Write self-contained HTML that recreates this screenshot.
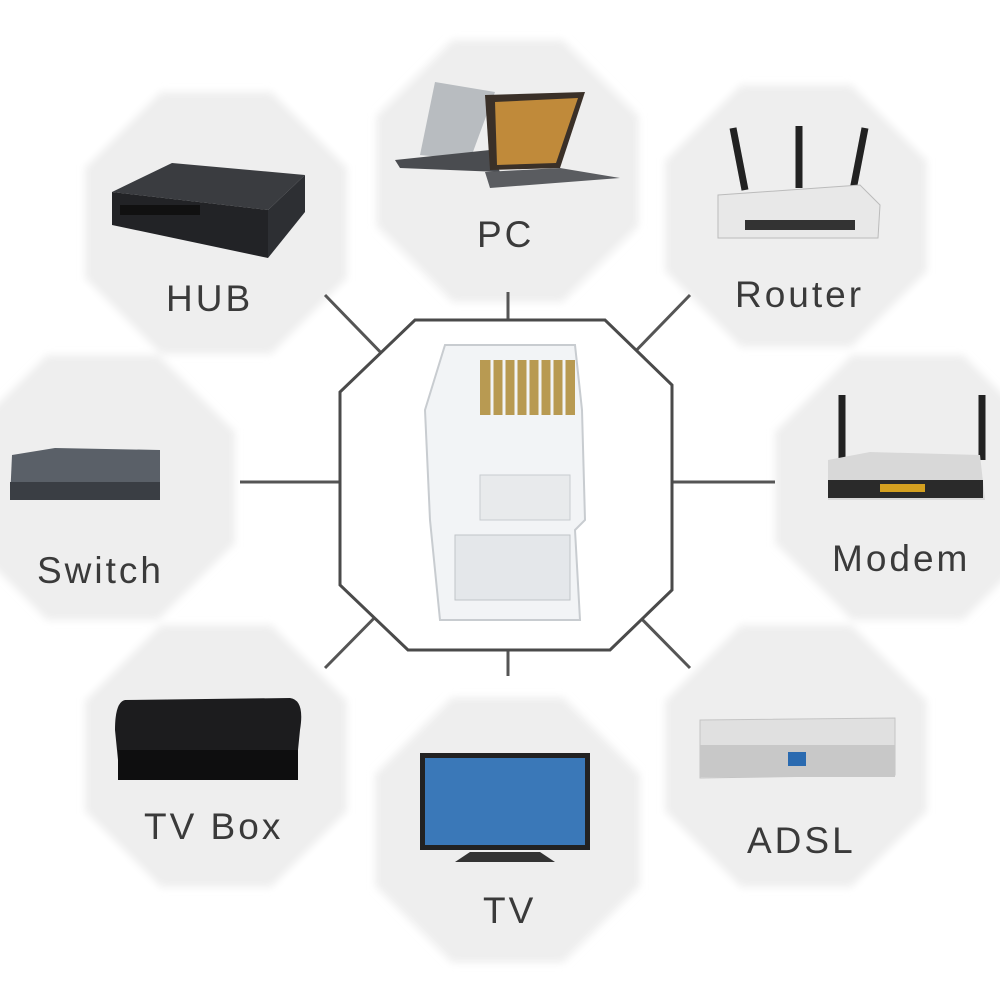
<!DOCTYPE html>
<html><head><meta charset="utf-8"><style>
html,body{margin:0;padding:0;background:#fff;}
svg{display:block;}
text{font-family:"Liberation Sans",sans-serif;font-size:37px;fill:#3a3a3a;letter-spacing:3px;}
</style></head><body>
<svg width="1000" height="1000" viewBox="0 0 1000 1000" xmlns="http://www.w3.org/2000/svg">
<defs>
<filter id="b" x="-10%" y="-10%" width="120%" height="120%"><feGaussianBlur stdDeviation="4"/></filter>
<symbol id="oct" viewBox="0 0 100 100"><polygon points="29,0 71,0 100,29 100,71 71,100 29,100 0,71 0,29" fill="#eeeeee"/></symbol>
</defs>
<g filter="url(#b)">
<use href="#oct" x="85" y="92" width="262" height="262"/>
<use href="#oct" x="375" y="40" width="265" height="262"/>
<use href="#oct" x="665" y="85" width="262" height="262"/>
<use href="#oct" x="-30" y="355" width="265" height="265"/>
<use href="#oct" x="775" y="355" width="265" height="265"/>
<use href="#oct" x="85" y="625" width="262" height="262"/>
<use href="#oct" x="375" y="685" width="265" height="290"/>
<use href="#oct" x="665" y="625" width="262" height="262"/>
</g>
<g stroke="#555" stroke-width="3" fill="none">
<line x1="325" y1="295" x2="390" y2="362"/>
<line x1="508" y1="292" x2="508" y2="320"/>
<line x1="690" y1="295" x2="625" y2="362"/>
<line x1="240" y1="482" x2="340" y2="482"/>
<line x1="672" y1="482" x2="775" y2="482"/>
<line x1="325" y1="668" x2="390" y2="602"/>
<line x1="508" y1="650" x2="508" y2="676"/>
<line x1="690" y1="668" x2="625" y2="602"/>
<polygon points="415,320 605,320 672,385 672,590 610,650 408,650 340,585 340,392" fill="#fff" stroke="#4a4a4a" stroke-width="3"/>
</g>
<g>
<path d="M445 345 L575 345 L582 410 L585 520 L575 530 L580 620 L440 620 L430 520 L425 410 Z" fill="#f2f4f6" stroke="#c8ccd0" stroke-width="2"/>
<rect x="480" y="360" width="95" height="55" fill="#b89a52"/>
<g stroke="#f2f4f6" stroke-width="3"><line x1="492" y1="360" x2="492" y2="415"/><line x1="504" y1="360" x2="504" y2="415"/><line x1="516" y1="360" x2="516" y2="415"/><line x1="528" y1="360" x2="528" y2="415"/><line x1="540" y1="360" x2="540" y2="415"/><line x1="552" y1="360" x2="552" y2="415"/><line x1="564" y1="360" x2="564" y2="415"/></g>
<rect x="455" y="535" width="115" height="65" fill="#e4e7ea" stroke="#c0c4c8"/>
<rect x="480" y="475" width="90" height="45" fill="#e8eaec" stroke="#c8ccd0"/>
</g>
<!-- HUB -->
<polygon points="112,192 172,163 305,175 268,210" fill="#3a3c40"/>
<polygon points="112,192 268,210 268,258 112,225" fill="#222326"/>
<polygon points="268,210 305,175 305,212 268,258" fill="#2d2f33"/>
<rect x="120" y="205" width="80" height="10" fill="#111"/>
<!-- PC -->
<polygon points="435,82 495,92 470,160 420,155" fill="#b8bcc0"/>
<polygon points="395,160 490,150 500,172 400,168" fill="#4a4c50"/>
<polygon points="485,95 585,92 560,168 490,170" fill="#3a3028"/>
<polygon points="495,102 578,98 556,163 497,165" fill="#c08a3a"/>
<polygon points="485,172 560,168 620,178 490,188" fill="#5a5c60"/>
<!-- Router -->
<line x1="733" y1="128" x2="745" y2="190" stroke="#222" stroke-width="7"/>
<line x1="799" y1="126" x2="799" y2="188" stroke="#222" stroke-width="7"/>
<line x1="865" y1="128" x2="853" y2="190" stroke="#222" stroke-width="7"/>
<polygon points="718,195 860,185 880,205 878,238 718,238" fill="#e8e8e8" stroke="#bbb"/>
<rect x="745" y="220" width="110" height="10" fill="#333"/>
<!-- Switch -->
<polygon points="12,455 55,448 160,450 160,498 10,500" fill="#5a6068"/>
<rect x="10" y="482" width="150" height="18" fill="#3a3e44"/>
<!-- Modem -->
<line x1="842" y1="395" x2="842" y2="460" stroke="#222" stroke-width="7"/>
<line x1="982" y1="395" x2="982" y2="460" stroke="#222" stroke-width="7"/>
<polygon points="828,460 870,452 980,455 985,500 828,500" fill="#d8d8d8"/>
<rect x="828" y="480" width="155" height="18" fill="#2a2a2a"/>
<rect x="880" y="484" width="45" height="8" fill="#d4a020"/>
<!-- TV box -->
<path d="M125 700 L290 698 Q305 700 300 730 L295 780 L120 780 L115 730 Q115 702 125 700Z" fill="#1c1c1e"/>
<rect x="118" y="750" width="180" height="30" fill="#0e0e0f"/>
<!-- TV -->
<rect x="420" y="753" width="170" height="97" fill="#222"/>
<rect x="425" y="758" width="160" height="87" fill="#3a78b8"/>
<polygon points="470,852 540,852 555,862 455,862" fill="#333"/>
<!-- ADSL -->
<polygon points="700,720 895,718 895,775 700,778" fill="#e0e0e0" stroke="#c4c4c4"/>
<rect x="700" y="745" width="195" height="32" fill="#c8c8c8"/>
<rect x="788" y="752" width="18" height="14" fill="#2a6ab0"/>
<text x="166" y="311">HUB</text>
<text x="477" y="247">PC</text>
<text x="735" y="307">Router</text>
<text x="37" y="583">Switch</text>
<text x="832" y="571">Modem</text>
<text x="144" y="839">TV Box</text>
<text x="483" y="923">TV</text>
<text x="747" y="853">ADSL</text>
</svg>
</body></html>
